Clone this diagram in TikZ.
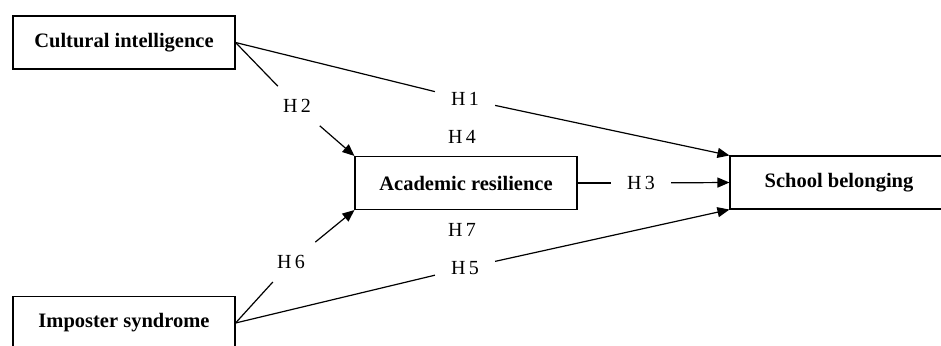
\documentclass[tikz,border=0pt]{standalone}
\usepackage{fontspec}
\setmainfont{Liberation Serif}
\usetikzlibrary{arrows.meta}
\begin{document}
\begin{tikzpicture}[x=1pt,y=-1pt,
  box/.style={draw,line width=1.1pt,minimum width=222pt,minimum height=53pt,inner sep=0pt,font=\fontsize{20.5}{24}\selectfont\bfseries},
  hlab/.style={inner xsep=16pt,inner ysep=13pt,font=\fontsize{20}{24}\selectfont},
  tlab/.style={inner sep=0pt,font=\fontsize{20}{24}\selectfont},
  conn/.style={line width=1.2pt},
  arr/.style={conn,-{Triangle[length=12pt,width=10pt]}}]
\useasboundingbox (0,0) rectangle (941,345);
\node[box] (ci) at (124,42.5) {Cultural intelligence};
\node[box] (is) at (124,323) {Imposter syndrome};
\node[box] (ar) at (466,183) {Academic resilience};
\node[box,minimum width=218pt] (sb) at (839,182.5) {School belonging};
\node[hlab] (h1) at (465,99) {H\,1};
\node[hlab] (h2) at (297,106) {H\,2};
\node[hlab] (h3) at (641,183) {H\,3};
\node[tlab] (h4) at (462,137) {H\,4};
\node[hlab] (h5) at (465,268) {H\,5};
\node[hlab] (h6) at (291,262) {H\,6};
\node[tlab] (h7) at (462,230) {H\,7};
\draw[conn] (ci.east) -- (h1);
\draw[arr] (h1) -- (sb.north west);
\draw[conn] (ci.east) -- (h2);
\draw[arr] (h2) -- (ar.north west);
\draw[conn] (ar.east) -- (h3);
\draw[arr] (h3) -- (sb.west);
\draw[conn] (is.east) -- (h5);
\draw[arr] (h5) -- (sb.south west);
\draw[conn] (is.east) -- (h6);
\draw[arr] (h6) -- (ar.south west);
\end{tikzpicture}
\end{document}
